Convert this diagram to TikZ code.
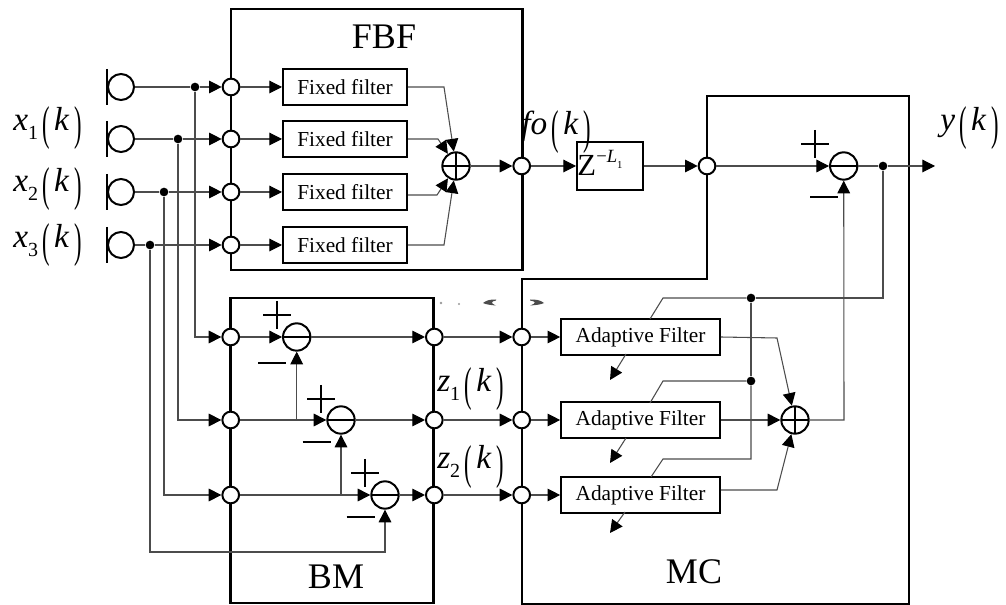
\documentclass[tikz,border=0pt]{standalone}
\usepackage{fontspec}
\setmainfont{Liberation Serif}
\usetikzlibrary{arrows.meta,calc}
\newcommand{\fsz}[1]{\fontsize{#1}{#1}\selectfont}
\newcommand{\prn}[1]{\raisebox{-0.27em}{\scalebox{0.8}[1.7]{\fsz{21}#1}}}
\newcommand{\lab}[2]{{\fsz{25}\textit{#1}\raisebox{-0.25em}{\fsz{15}#2}\kern3pt\prn{(}\kern3.5pt\textit{k}\kern3.5pt\prn{)}}}
\newcommand{\labn}[1]{{\fsz{25}\textit{#1}\kern3pt\prn{(}\kern3.5pt\textit{k}\kern3.5pt\prn{)}}}
\tikzset{
  x=0.75pt,y=-0.75pt,
  heavy/.style={line width=1.9pt,line join=miter},
  wire/.style={line width=0.8pt,draw=black!70},
  arr/.style={wire,-{Triangle[length=9.5pt,width=9.5pt,color=black]}},
  port/.style={circle,draw,fill=white,line width=1.5pt,minimum size=12.5pt,inner sep=0pt},
  jdot/.style={circle,fill=black,minimum size=6.5pt,inner sep=0pt},
  mic/.style={circle,draw,line width=1.5pt,minimum size=19.5pt,inner sep=0pt},
  summer/.style={circle,draw,fill=white,line width=1.5pt,minimum size=20.5pt,inner sep=0pt,
    path picture={\draw[line width=1.3pt] (path picture bounding box.north)--(path picture bounding box.south)
      (path picture bounding box.west)--(path picture bounding box.east);}},
  subber/.style={circle,draw,fill=white,line width=1.5pt,minimum size=20.5pt,inner sep=0pt,
    path picture={\draw[line width=1.3pt] (path picture bounding box.west)--(path picture bounding box.east);}},
  fixedbox/.style={draw,fill=white,line width=1.5pt,minimum width=93pt,minimum height=26.5pt,inner sep=0pt,font=\fsz{16}},
  adaptbox/.style={draw,fill=white,line width=1.5pt,minimum width=119pt,minimum height=26.5pt,inner sep=0pt,font=\fsz{16}},
  bigbox/.style={draw,heavy,inner sep=0pt},
  title/.style={inner sep=0pt,font=\fsz{27}},
  txt/.style={inner sep=0pt},
  signline/.style={line width=1.3pt},
}
\begin{document}
\begin{tikzpicture}
\useasboundingbox (0,0) rectangle (1006,605);
% big blocks
\node[bigbox,minimum width=218.6pt,minimum height=196pt] (fbf) at (376.5,139.5) {};
\node[bigbox,minimum width=152.6pt,minimum height=229pt] (bm) at (332,450.5) {};
\draw[heavy] (707,96) -- (909,96) -- (909,604) -- (522,604) -- (522,279) -- (707,279) -- cycle;
\node[title] (tfbf) at (384,37) {FBF};
\node[title] (tbm) at (336,577) {BM};
\node[title] (tmc) at (694,572) {MC};
% microphones
\foreach \n/\y in {1/87,2/139,3/192,4/245}{
  \node[mic] (m\n) at (121,\y) {};
  \draw[line width=1.5pt] ([yshift=13.5pt]m\n.west) -- ([yshift=-13.5pt]m\n.west);
}
% input ports / filters
\foreach \n/\y/\by in {1/87/87,2/139/139,3/192/192,4/245/245}{
  \node[port] (f\n) at (231,\y) {};
  \node[fixedbox] (ff\n) at (345,\by) {Fixed filter};
  \draw[arr] (f\n) -- (ff\n);
}
\node[jdot] (d1) at (195,87) {};
\node[jdot] (d2) at (178,139) {};
\node[jdot] (d3) at (164,192) {};
\node[jdot] (d4) at (150,245) {};
\foreach \n in {1,2,3,4}{
  \draw[wire] (m\n) -- (d\n);
  \draw[arr] (d\n) -- (f\n);
}
\node[summer] (sa) at (456,166) {};
\node[port] (fo) at (521.7,166) {};
\draw[arr] (ff1.east) -- (444,87) -- (sa);
\draw[arr] (ff2.east) -- (438,139) -- (sa);
\draw[arr] (ff3.east |- 0,195) -- (437,195) -- (sa);
\draw[arr] (ff4.east) -- (444,245) -- (sa);
\draw[arr] (sa) -- (fo);
% delay
\node[draw,fill=white,line width=1.5pt,minimum width=49.5pt,minimum height=36pt,inner sep=0pt] (zd) at (610,166) {};
\node[txt,anchor=base west,font=\fsz{23}] (zt) at (577,176) {Z};
\node[txt,anchor=base west,font=\fsz{14}] (zs) at (596,163) {\textminus\textit{L}\raisebox{-0.3em}{\fsz{8}1}};
\draw[arr] (fo) -- (zd);
\node[port] (mc0) at (707,166) {};
\draw[arr] (zd) -- (mc0);
\node[subber] (so) at (843.7,166) {};
\node[jdot] (dy) at (883,166) {};
\coordinate (yout) at (935,166);
\draw[arr] (mc0) -- (so);
\draw[wire] (so) -- (dy);
\draw[arr] (dy) -- (yout);
\draw[signline] (801,144) -- (829,144) (815,130) -- (815,158);
\draw[signline] (810,197) -- (838,197);
% BM ports
\foreach \n/\y in {1/337,2/420,3/495}{
  \node[port] (bl\n) at (230.7,\y) {};
  \node[port] (br\n) at (434.3,\y) {};
  \node[port] (ml\n) at (521.7,\y) {};
  \node[adaptbox] (af\n) at (640.5,\y) {Adaptive Filter};
  \draw[arr] (br\n) -- (ml\n);
  \draw[arr] (ml\n) -- (af\n);
}
\draw[arr] (d1) -- (d1 |- bl1) -- (bl1);
\draw[arr] (d2) -- (d2 |- bl2) -- (bl2);
\draw[arr] (d3) -- (d3 |- bl3) -- (bl3);
% subtractors
\node[subber] (s1) at (296.7,337) {};
\node[subber] (s2) at (341,420) {};
\node[subber] (s3) at (385,495) {};
\foreach \n in {1,2,3}{
  \draw[arr] (bl\n) -- (s\n);
  \draw[arr] (s\n) -- (br\n);
}
\draw[arr] (s1 |- bl2) -- (s1);
\draw[arr] (s2 |- bl3) -- (s2);
\draw[arr] (d4) -- (150,552) -- (385,552) -- (s3);
\foreach \cx/\cy/\mx/\my in {277/315/272/363,321/399/316.7/442,365/473/360.7/517}{
  \draw[signline] (\cx-14,\cy) -- (\cx+14,\cy) (\cx,\cy-14) -- (\cx,\cy+14);
  \draw[signline] (\mx-14,\my) -- (\mx+14,\my);
}
% MC sum
\node[summer] (sb) at (795,420) {};
\draw[arr] (af1.east) -- (777,338) -- (sb);
\draw[arr] (af2) -- (sb);
\draw[arr] (af3.east |- 0,490) -- (777,490) -- (sb);
\draw[arr] (sb) -- (844,420) -- (so);
% feedback
\node[jdot] (e1) at (751,298) {};
\node[jdot] (e2) at (751,381) {};
\draw[wire] (dy) -- (883,298) -- (e1);
\draw[wire] (e1) -- (e2);
\draw[wire] (e1) -- (663,298) -- (650,319);
\draw[wire] (e2) -- (663,381) -- (650,403);
\draw[wire] (e2) -- (751,459) -- (663,459) -- (651,477);
\coordinate (a1) at (610,380);
\coordinate (a2) at (610,463);
\coordinate (a3) at (610,533);
\draw[arr] (626,354) -- (a1);
\draw[arr] (626,438) -- (a2);
\draw[arr] (625,512) -- (a3);
% labels
\node[txt,anchor=base west] (lx1) at (13,131) {\lab{x}{1}};
\node[txt,anchor=base west] (lx2) at (13,192) {\lab{x}{2}};
\node[txt,anchor=base west] (lx3) at (13,248) {\lab{x}{3}};
\node[txt,anchor=base west] (lz1) at (437,392) {\lab{z}{1}};
\node[txt,anchor=base west] (lz2) at (437,469) {\lab{z}{2}};
\node[txt,anchor=base west] (lfo) at (521,135) {\labn{fo}};
\node[txt,anchor=base west] (ly) at (940,131) {\labn{y}};
% erased remnants
\fill[black!70] (483,303) .. controls (487,300) and (490,299.5) .. (496,299.5) -- (496,300.5) .. controls (491,301.5) and (490,303) .. (496,305.5) .. controls (490,305) and (486,304.5) .. cycle;
\fill[black!70] (544,303) .. controls (540,300) and (537,299.5) .. (530,299.5) -- (530,300.5) .. controls (536,301.5) and (537,303) .. (530,305.5) .. controls (537,305) and (541,304.5) .. cycle;
\fill[black!40] (441,303) circle (1pt) (459,304) circle (0.8pt);
\end{tikzpicture}
\end{document}
